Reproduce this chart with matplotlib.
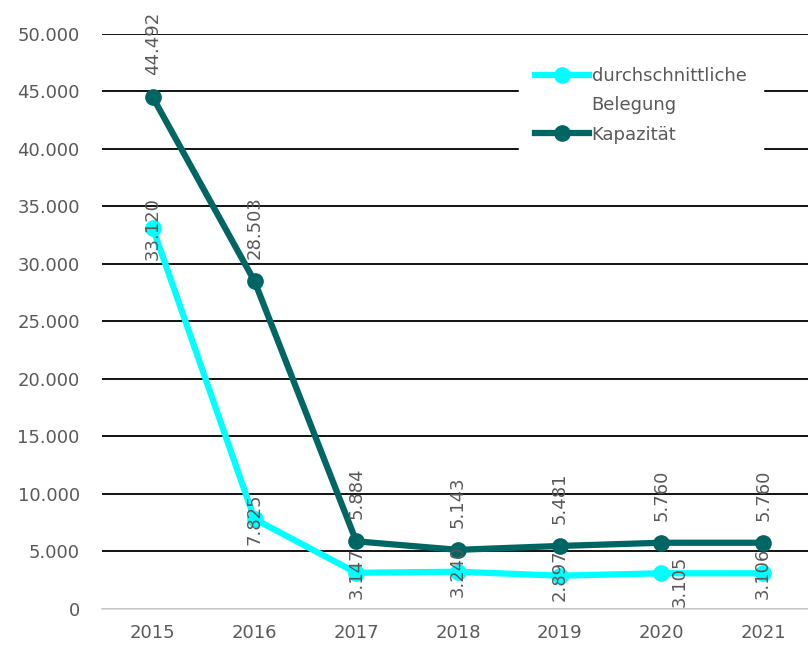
import matplotlib.pyplot as plt
from matplotlib.lines import Line2D
from matplotlib.ticker import FuncFormatter

plt.rcParams['font.family'] = ['DejaVu Sans']

# Daten
jahre = ['2015', '2016', '2017', '2018', '2019', '2020', '2021']
belegung = [33120, 7825, 3147, 3240, 2897, 3105, 3106]
kapazitaet = [44492, 28503, 5884, 5143, 5481, 5760, 5760]

CYAN = '#00FFFF'
TEAL = '#006663'
GRAU = '#595959'
FS = 13


def tausender(v, pos):
    return f'{int(v):,}'.replace(',', '.')


fig = plt.figure(figsize=(8.08, 6.5), dpi=100)
ax = fig.add_axes([0.1262, 0.0631, 0.8812, 0.8846])

x = range(len(jahre))
l1, = ax.plot(x, belegung, color=CYAN, lw=4.5, marker='o', ms=11, zorder=3)
l2, = ax.plot(x, kapazitaet, color=TEAL, lw=4.5, marker='o', ms=11, zorder=4)

# Datenbeschriftungen Kapazität (oberhalb)
for i, v in enumerate(kapazitaet):
    ax.annotate(tausender(v, None), (i, v), xytext=(0, 16),
                textcoords='offset points', rotation=90, ha='center',
                va='bottom', fontsize=FS, color=GRAU, clip_on=False,
                zorder=5)

# Datenbeschriftungen Belegung (zentriert, teils verschoben)
versatz = [(0, 0), (0, 0), (0, 0), (0, 0), (0, 0), (13, -6), (0, 0)]
for i, v in enumerate(belegung):
    dx, dy = versatz[i]
    ax.annotate(tausender(v, None), (i, v), xytext=(dx, dy),
                textcoords='offset points', rotation=90, ha='center',
                va='center', fontsize=FS, color=GRAU, clip_on=False,
                zorder=5)

ax.set_xlim(-0.5, len(jahre) - 0.5)
ax.set_ylim(0, 50000)
ax.set_yticks(range(0, 50001, 5000))
ax.yaxis.set_major_formatter(FuncFormatter(tausender))
ax.set_xticks(list(x))
ax.set_xticklabels(jahre)
ax.tick_params(length=0, labelsize=FS, labelcolor=GRAU, pad=11)
ax.tick_params(axis='y', pad=16)

ax.grid(axis='y', color='black', lw=1.3, zorder=1)
ax.set_axisbelow(True)
for s in ['top', 'right', 'left']:
    ax.spines[s].set_visible(False)
ax.spines['bottom'].set_color('#d9d9d9')
ax.spines['bottom'].set_linewidth(1.3)

# Legende: zweizeiliger Eintrag, Symbol an der ersten Zeile
leer = Line2D([], [], color='none')
leg = fig.legend([l1, leer, l2], ['durchschnittliche', 'Belegung', 'Kapazität'],
                 loc='upper left', bbox_to_anchor=(510 / 808, 1 - 42 / 650),
                 frameon=True, fontsize=FS, handlelength=3.0,
                 borderpad=0.9, labelspacing=0.62, handletextpad=0.12)
leg.get_frame().set_edgecolor('white')
leg.get_frame().set_facecolor('white')
leg.get_frame().set_alpha(1)
leg.get_frame().set_boxstyle('square', pad=0)
for t in leg.get_texts():
    t.set_color(GRAU)

fig.savefig('out.png', dpi=100)
